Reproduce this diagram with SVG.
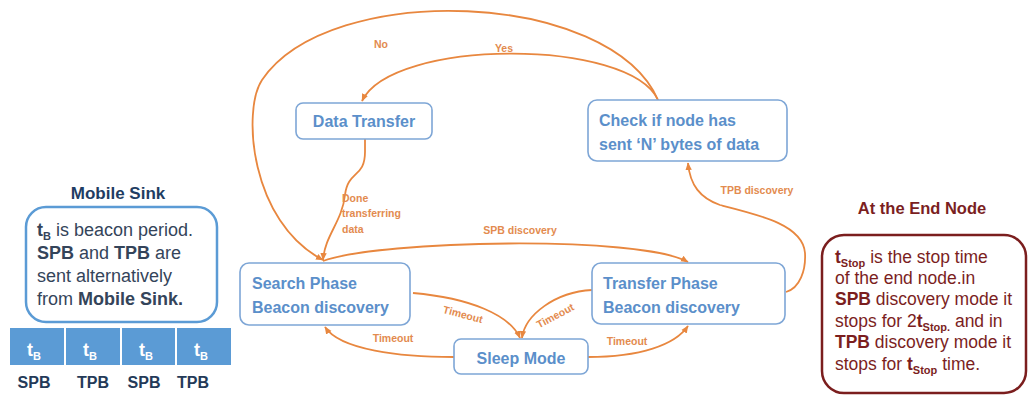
<svg xmlns="http://www.w3.org/2000/svg" width="1028" height="396" viewBox="0 0 1028 396">
<defs>
<marker id="ah" markerWidth="8" markerHeight="8" refX="7" refY="4" orient="auto" markerUnits="userSpaceOnUse">
<path d="M0,0.8 L7.5,4 L0,7.2 Z" fill="#e8873f"/>
</marker>
<style>
.nb{fill:#fff;stroke:#7ea6d6;stroke-width:1.6}
.nt{font-family:"Liberation Sans",Arial,sans-serif;font-weight:bold;font-size:16px;fill:#5b8fca}
.cn{fill:none;stroke:#e8873f;stroke-width:1.8;marker-end:url(#ah)}
.lb{font-family:"Liberation Sans",Arial,sans-serif;font-weight:bold;font-size:10.5px;fill:#e38b4f}
.ms{font-family:"Liberation Sans",Arial,sans-serif;font-size:18px;fill:#34445a}
.en{font-family:"Liberation Sans",Arial,sans-serif;font-size:17.5px;fill:#7b1e1e}
.b{font-weight:bold}
.cell{fill:#5b9bd5}
.ct{font-family:"Liberation Sans",Arial,sans-serif;font-weight:bold;font-size:18px;fill:#fff}
.bl{font-family:"Liberation Sans",Arial,sans-serif;font-weight:bold;font-size:16px;fill:#243a58}
</style>
</defs>
<rect width="1028" height="396" fill="#fff"/>

<g id="connectors">
<path class="cn" d="M658,100 C610,-10 330,-20 262,80 C242,110 250,222 323,260"/>
<path class="cn" d="M658,100 C630,38 392,38 362,101"/>
<path class="cn" d="M365,139 L365,152 C365,178 348,170 345,195 C342,222 325,235 323,260"/>
<path class="cn" d="M323,261 C380,240 640,235 688,262"/>
<path class="cn" d="M786,292 C800,288 806,270 805,253 C803,225 760,215 720,205 C700,198 690,185 688,163"/>
<path class="cn" d="M413,293 C470,298 510,315 520,338"/>
<path class="cn" d="M592,290 C555,292 525,315 522,338"/>
<path class="cn" d="M454,357 C400,357 340,350 325,327"/>
<path class="cn" d="M588,357 C640,357 675,345 688,326"/>
<text class="lb" x="381" y="48" text-anchor="middle">No</text>
<text class="lb" x="504" y="52" text-anchor="middle">Yes</text>
<text class="lb" x="520" y="234" text-anchor="middle">SPB discovery</text>
<text class="lb" x="757" y="194" text-anchor="middle">TPB discovery</text>
<text class="lb" x="342" y="202">Done</text>
<text class="lb" x="342" y="217">transferring</text>
<text class="lb" x="342" y="233">data</text>
<text class="lb" text-anchor="middle" transform="translate(462,318) rotate(15)">Timeout</text>
<text class="lb" text-anchor="middle" transform="translate(557,319) rotate(-28)">Timeout</text>
<text class="lb" x="393" y="342" text-anchor="middle">Timeout</text>
<text class="lb" x="627" y="345" text-anchor="middle">Timeout</text>
</g>

<g id="node-data-transfer">
<rect class="nb" x="296" y="103" width="136" height="36" rx="7"/>
<text class="nt" x="364" y="127" text-anchor="middle">Data Transfer</text>
</g>

<g id="node-check">
<rect class="nb" x="588" y="100" width="199" height="61" rx="9"/>
<text class="nt" x="599" y="126">Check if node has</text>
<text class="nt" x="599" y="150">sent ‘N’ bytes of data</text>
</g>

<g id="node-search">
<rect class="nb" x="240" y="263" width="170" height="62" rx="9"/>
<text class="nt" x="252" y="289">Search Phase</text>
<text class="nt" x="252" y="313">Beacon discovery</text>
</g>

<g id="node-transfer">
<rect class="nb" x="592" y="263" width="193" height="61" rx="9"/>
<text class="nt" x="603" y="289">Transfer Phase</text>
<text class="nt" x="603" y="313">Beacon discovery</text>
</g>

<g id="node-sleep">
<rect class="nb" x="454" y="339" width="134" height="35" rx="7"/>
<text class="nt" x="521" y="364" text-anchor="middle">Sleep Mode</text>
</g>

<g id="mobile-sink">
<text x="118" y="199" text-anchor="middle" style="font-family:'Liberation Sans',Arial,sans-serif;font-weight:bold;font-size:17px;fill:#1f3d63">Mobile Sink</text>
<rect x="26" y="207" width="191" height="115" rx="20" fill="#fff" stroke="#5b9bd5" stroke-width="2.5"/>
<text class="ms" x="37" y="236"><tspan class="b">t</tspan><tspan class="b" font-size="11" dy="4">B</tspan><tspan dy="-4"> is beacon period.</tspan></text>
<text class="ms" x="37" y="259"><tspan class="b">SPB</tspan> and <tspan class="b">TPB</tspan> are</text>
<text class="ms" x="37" y="282">sent alternatively</text>
<text class="ms" x="37" y="305">from <tspan class="b">Mobile Sink.</tspan></text>
</g>

<g id="beacon-bar">
<rect class="cell" x="10" y="328" width="54" height="37"/>
<rect class="cell" x="66" y="328" width="54" height="37"/>
<rect class="cell" x="122" y="328" width="53" height="37"/>
<rect class="cell" x="177" y="328" width="54" height="37"/>
<text class="ct" x="34" y="356" text-anchor="middle">t<tspan font-size="11" dy="4">B</tspan></text>
<text class="ct" x="90" y="356" text-anchor="middle">t<tspan font-size="11" dy="4">B</tspan></text>
<text class="ct" x="146" y="356" text-anchor="middle">t<tspan font-size="11" dy="4">B</tspan></text>
<text class="ct" x="201" y="356" text-anchor="middle">t<tspan font-size="11" dy="4">B</tspan></text>
<text class="bl" x="34" y="388" text-anchor="middle">SPB</text>
<text class="bl" x="93" y="388" text-anchor="middle">TPB</text>
<text class="bl" x="144" y="388" text-anchor="middle">SPB</text>
<text class="bl" x="193" y="388" text-anchor="middle">TPB</text>
</g>

<g id="end-node">
<text x="922" y="214" text-anchor="middle" style="font-family:'Liberation Sans',Arial,sans-serif;font-weight:bold;font-size:16.5px;fill:#7b1f1f">At the End Node</text>
<rect x="822" y="235" width="204" height="158" rx="22" fill="#fff" stroke="#7b1e1e" stroke-width="2.5"/>
<text class="en" x="835" y="263"><tspan class="b">t</tspan><tspan class="b" font-size="11" dy="4">Stop</tspan><tspan dy="-4"> is the stop time</tspan></text>
<text class="en" x="835" y="284">of the end node.in</text>
<text class="en" x="835" y="305"><tspan class="b">SPB</tspan> discovery mode it</text>
<text class="en" x="835" y="327">stops for 2<tspan class="b">t</tspan><tspan class="b" font-size="11" dy="4">Stop.</tspan><tspan dy="-4"> and in</tspan></text>
<text class="en" x="835" y="348"><tspan class="b">TPB</tspan> discovery mode it</text>
<text class="en" x="835" y="370">stops for <tspan class="b">t</tspan><tspan class="b" font-size="11" dy="4">Stop</tspan><tspan dy="-4"> time.</tspan></text>
</g>
</svg>
